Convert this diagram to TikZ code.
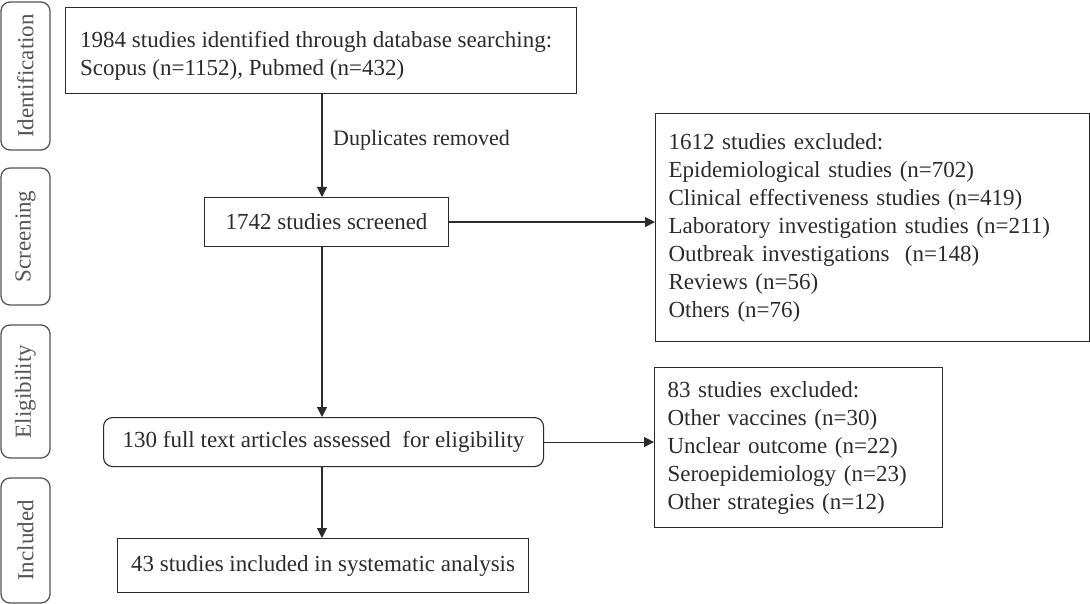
\documentclass[tikz,border=0pt]{standalone}
\usepackage{fontspec}
\setmainfont{Liberation Serif}
\usetikzlibrary{arrows.meta}
\definecolor{ink}{HTML}{2B2B2B}
\definecolor{phaseink}{HTML}{555555}
\tikzset{
  box/.style={draw=ink, line width=1.1pt, text=ink, inner sep=0pt, font=\fontsize{23pt}{28pt}\selectfont},
  listbox/.style={box, align=left, inner xsep=13pt},
  rbox/.style={box, rounded corners=9pt},
  phase/.style={draw=phaseink, line width=1.3pt, rounded corners=9pt, text=phaseink, rotate=90, inner sep=0pt, font=\fontsize{23pt}{28pt}\selectfont},
  arr/.style={draw=ink, line width=1.1pt, -{Triangle[length=10pt,width=10pt]}},
  conn/.style={draw=ink, line width=1.1pt},
  lbl/.style={text=ink, inner sep=0pt, font=\fontsize{22pt}{26pt}\selectfont},
  txt/.style={text=ink, inner sep=0pt, align=left, font=\fontsize{23pt}{28pt}\selectfont}
}
\begin{document}
\begin{tikzpicture}[x=1pt,y=-1pt]
\useasboundingbox (0,0) rectangle (1090,604);
% phase labels
\node[phase, minimum width=148pt, minimum height=49pt] (pI) at (25.5,76) {Identification};
\node[phase, minimum width=137pt, minimum height=49pt] (pS) at (25.5,236.5) {Screening};
\node[phase, minimum width=133pt, minimum height=49pt] (pE) at (25.5,391.5) {Eligibility};
\node[phase, minimum width=125pt, minimum height=49pt] (pN) at (25.5,540.5) {Included};
% main boxes
\node[box, minimum width=511pt, minimum height=86pt, anchor=north west] (b1) at (65,7) {};
\node[txt, anchor=west] (t1) at (80,56) {1984 studies identified through database searching:\\Scopus (n=1152), Pubmed (n=432)};
\node[box, minimum width=244pt, minimum height=49pt, anchor=north west] (b2) at (204,197) {1742 studies screened};
\node[listbox, text width=408pt, minimum height=228pt, anchor=north west] (b3) at (655,113)
  {1612 studies excluded:\\Epidemiological studies (n=702)\\Clinical effectiveness studies (n=419)\\Laboratory investigation studies (n=211)\\Outbreak investigations\ \ (n=148)\\Reviews (n=56)\\Others (n=76)};
\node[listbox, text width=262pt, minimum height=160pt, anchor=north west] (b4) at (654,367)
  {83 studies excluded:\\Other vaccines (n=30)\\Unclear outcome (n=22)\\Seroepidemiology (n=23)\\Other strategies (n=12)};
\node[rbox, minimum width=440pt, minimum height=49pt, anchor=north west] (b5) at (103,417) {130 full text articles assessed\ \ for eligibility};
\node[box, minimum width=411pt, minimum height=54pt, anchor=north west] (b6) at (117,538) {43 studies included in systematic analysis};
\node[lbl, anchor=west] (dup) at (333,140) {Duplicates removed};
% connectors
\coordinate (ax) at (322,0);
\draw[arr] (b1.south -| ax) -- (b2.north -| ax);
\draw[arr] (b2.south -| ax) -- (b5.north -| ax);
\draw[arr] (b5.south -| ax) -- (b6.north -| ax);
\draw[arr] (b2.east) -- (b3.west |- b2.east);
\draw[arr] (b5.east) -- (b4.west |- b5.east);
\end{tikzpicture}
\end{document}
